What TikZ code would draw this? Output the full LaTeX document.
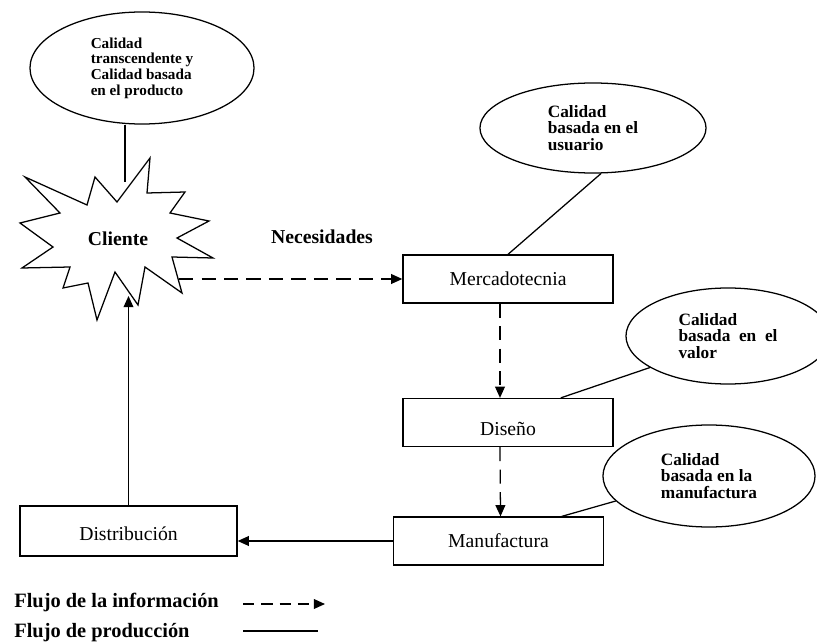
\documentclass[tikz,border=0pt]{standalone}
\usepackage{fontspec}
\setmainfont{Liberation Serif}
\usepackage{tikz}
\usetikzlibrary{calc,positioning,shapes,arrows.meta}

\begin{document}
\begin{tikzpicture}[x=0.025cm, y=-0.025cm, line width=0.9pt,
		>={Triangle[length=8pt,width=7pt]},
		area/.style={draw, minimum width=5.25cm, minimum height=1.2cm, font=\fontsize{14}{16}\selectfont},
		quality/.style={draw, ellipse, align=left, font=\bfseries\fontsize{12.3}{12}\selectfont, inner sep=0pt},
		info/.style={->, dash pattern=on 10pt off 6pt},
		prod/.style={->}]
		\useasboundingbox (0,0) rectangle (817,643);
		% cliente (estrella)
		\draw (150,158) -- (147,193) -- (185,192) -- (170,213) -- (209,221) -- (177,238)
			-- (213,258) -- (172,257) -- (182,293) -- (145,267) -- (138,305) -- (115,272)
			-- (97,320) -- (88,283) -- (63,288) -- (70,267) -- (22,268) -- (53,247)
			-- (20,223) -- (60,213) -- (25,177) -- (87,205) -- (95,177) -- (117,202) -- cycle;
		\node[font=\bfseries\fontsize{14}{16}\selectfont] at (118,239) (cliente) {Cliente};
		\coordinate (ctop) at (125,182);
		\coordinate (cright) at (179,279);
		\coordinate (cbot) at (128.5,296);
		% areas
		\node[area] at (508,279) (merc) {Mercadotecnia};
		\node[area, text height=18pt, text depth=0pt] at (508,422.5) (diseno) {Diseño};
		\node[area] at (498.5,541) (manu) {Manufactura};
		\node[area, minimum width=5.425cm, minimum height=1.25cm, text height=14pt, text depth=0pt] at (128.5,531) (dist) {Distribución};
		% calidades
		\node[quality, minimum width=5.6cm, minimum height=2.8cm, font=\bfseries\fontsize{10.8}{11.2}\selectfont] at (142,68) (qprod) {Calidad\\transcendente y\\Calidad basada\\en el producto};
		\node[quality, minimum width=5.65cm, minimum height=2.25cm] at (593,128) (quser) {Calidad\\basada en el\\usuario};
		\node[quality, minimum width=5.1cm, minimum height=2.4cm, xshift=0.35cm] at (714,336) (qval) {Calidad\\basada\ \ en\ \ el\\valor};
		\node[quality, minimum width=5.3cm, minimum height=2.55cm] at (709,476) (qmanu) {Calidad\\basada en la\\manufactura};
		\node[font=\bfseries\fontsize{14}{16}\selectfont] at (322,237) (nec) {Necesidades};
		% flujos
		\draw[info] (cright) -- (merc.west);
		\draw[info] ([xshift=-0.2cm]merc.south) -- ([xshift=-0.2cm]diseno.north);
		\draw[info] ([xshift=-0.2cm]diseno.south) -- ([xshift=0.05cm]manu.north);
		\draw[prod] (manu.west) -- (manu.west -| dist.east);
		\draw[prod] (dist) -- (cbot);
		% uniones
		\draw (ctop |- qprod.south) -- (ctop);
		\draw (quser.-80) -- (merc.north);
		\draw (qval.202) -- ($(diseno.north)!0.5!(diseno.north east)$);
		\draw (qmanu.195) -- ($(manu.north)!0.6!(manu.north east)$);
		% leyenda
		\node[anchor=west, font=\bfseries\fontsize{14.5}{16}\selectfont] at (9,602) (linfo) {Flujo de la información};
		\node[anchor=west, font=\bfseries\fontsize{14.5}{16}\selectfont] at (9,633) (lprod) {Flujo de producción};
		\coordinate (ia) at (243,604);
		\coordinate (ib) at (325,604);
		\coordinate (pa) at (243,631);
		\coordinate (pb) at (318,631);
		\draw[info, dash pattern=on 8pt off 5pt] (ia) -- (ib);
		\draw (pa) -- (pb);
\end{tikzpicture}
\end{document}
